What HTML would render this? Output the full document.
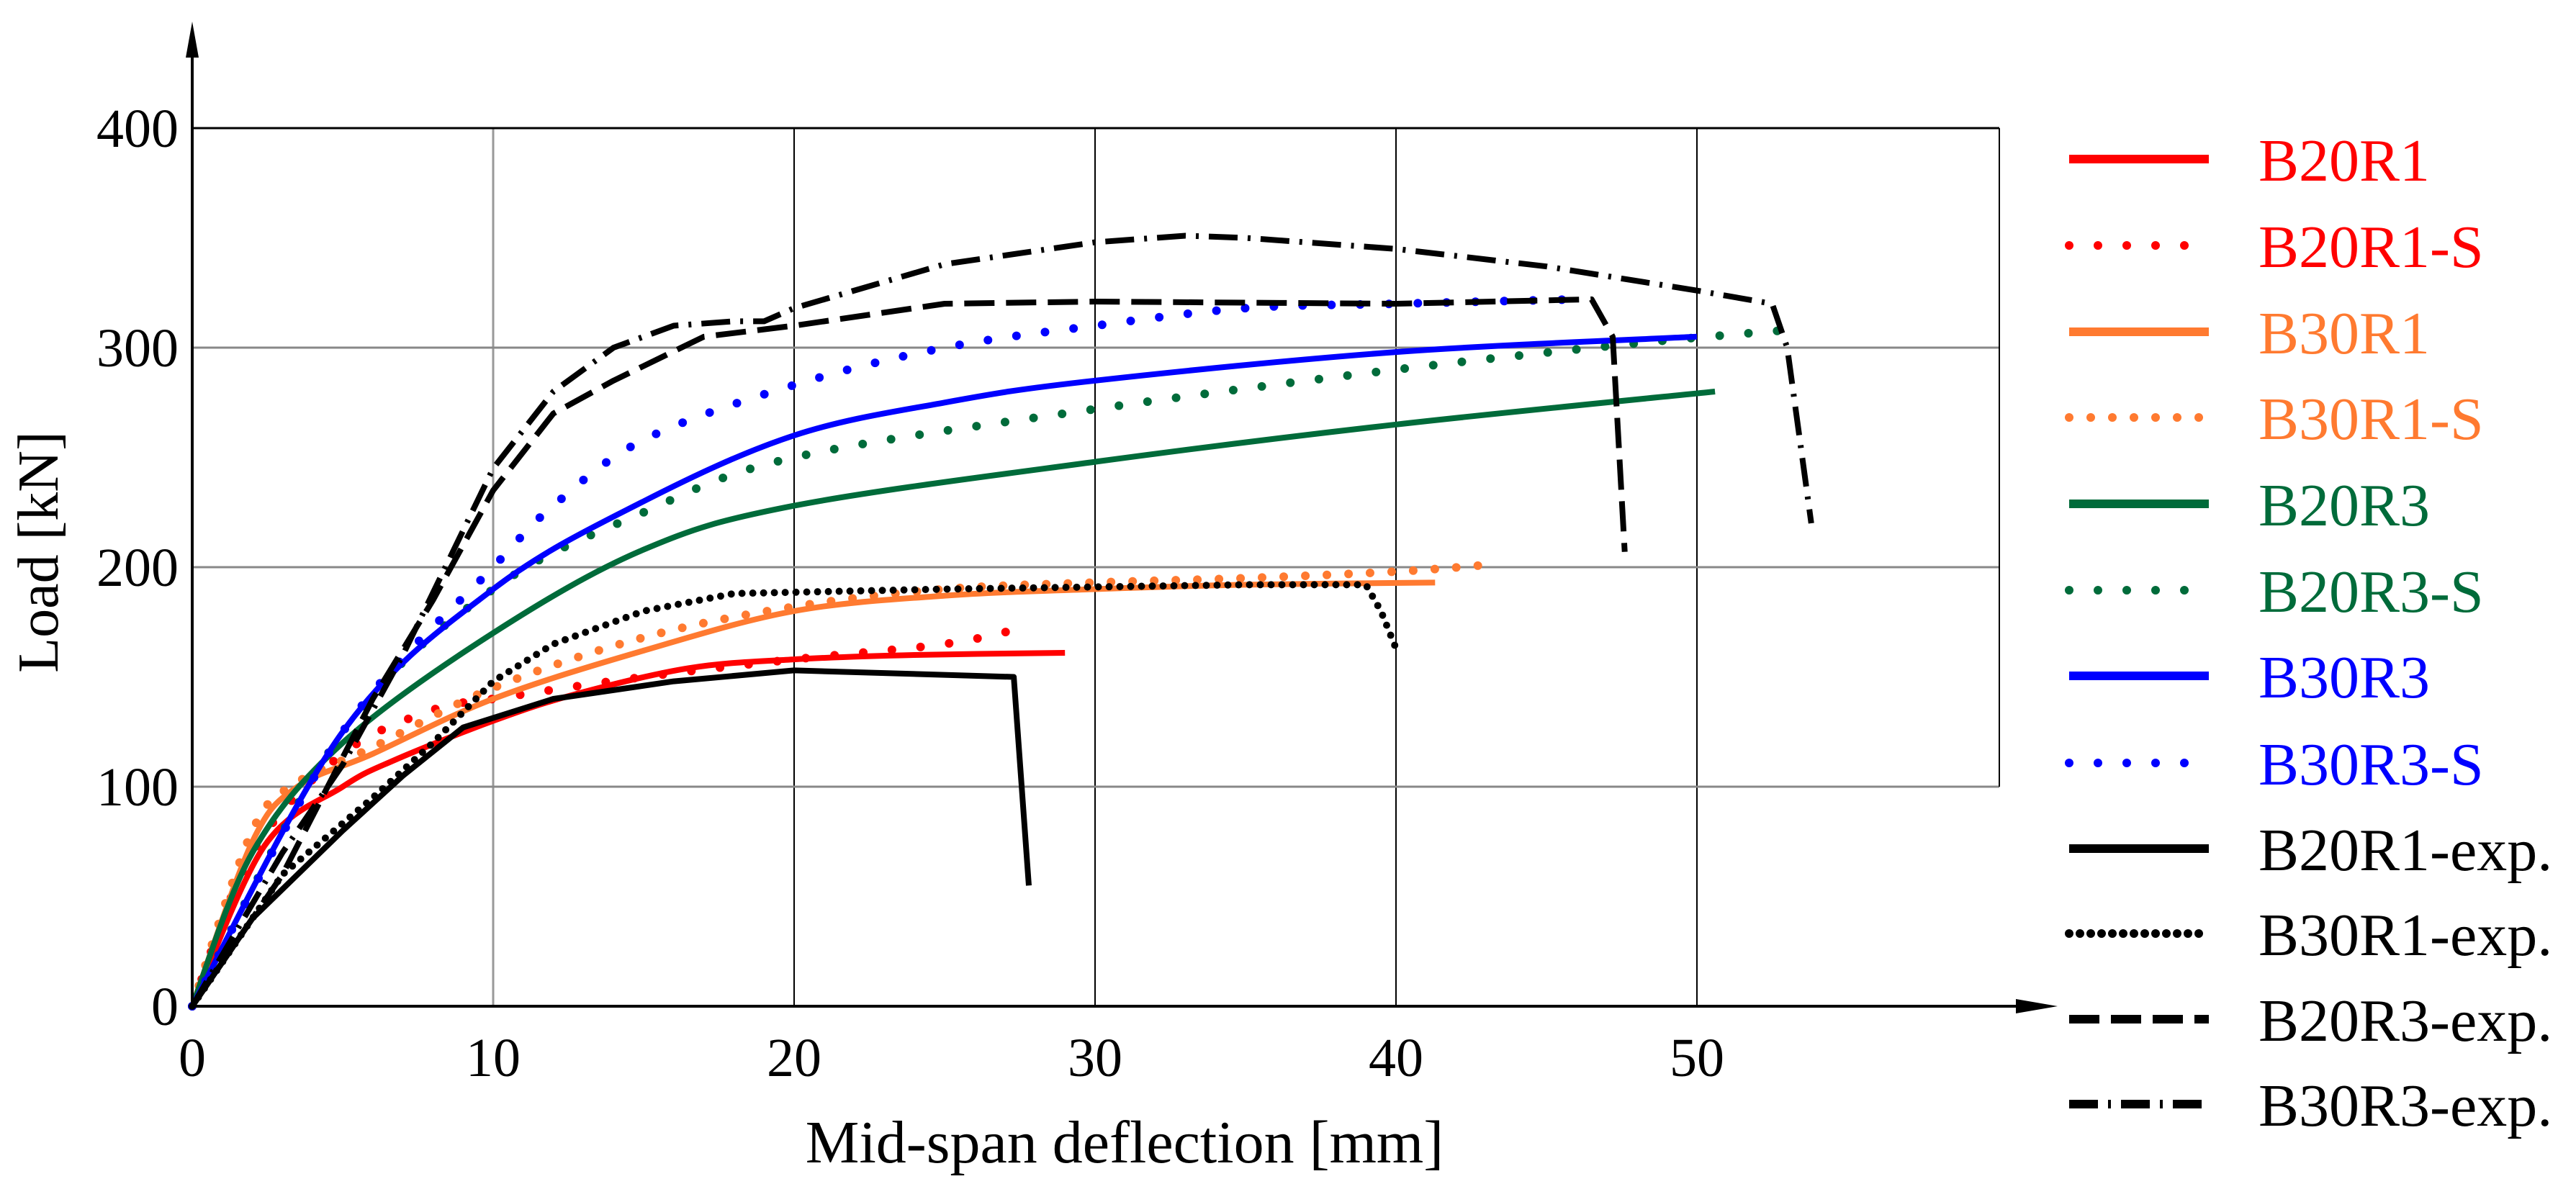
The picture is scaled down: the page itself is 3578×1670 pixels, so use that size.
<!DOCTYPE html>
<html><head><meta charset="utf-8">
<style>
html,body{margin:0;padding:0;background:#fff;}
svg{display:block;}
text{font-family:"Liberation Serif",serif;}
</style></head>
<body>
<svg id="chart" width="3578" height="1670" viewBox="0 0 3578 1670" xmlns="http://www.w3.org/2000/svg">
<g id="grid"></g>
<g id="series"></g>
<g id="axes"></g>
<g id="legend"></g>
<text x="0" y="0" font-size="80" text-anchor="middle" transform="translate(80,767) rotate(-90)">Load [kN]</text>
<text x="1562" y="1615" font-size="84" text-anchor="middle">Mid-span deflection  [mm]</text>
</svg>
<script>
const xTicks=[0,10,20,30,40,50];
const yTicks=[0,100,200,300,400];
const seriesNames=["B20R1","B20R1-S","B30R1","B30R1-S","B20R3","B20R3-S","B30R3","B30R3-S","B20R1-exp.","B30R1-exp.","B20R3-exp.","B30R3-exp."];
const B20R1_x=[0,2.4,5,6.7,10,12.7,16.5,20,24,29];
const B20R1_y=[0,73,100,112,130,142,154,158,160,161];
const B20R1S_x=[0,2,5,8,10,15,20,25,27.5];
const B20R1S_y=[0,70,115,135,140,150,158,165,172];
const B30R1_x=[0,2,3.5,6,10,15,20,25,30,35,41.3];
const B30R1_y=[0,75,100,115,140,162,180,187,190,192,193];
const B30R1S_x=[0,2,3.5,6,10,15,20,25,30,35,40,43];
const B30R1S_y=[0,80,102,118,145,168,182,190,193,195,198,201];
const B20R3_x=[0,2,5,10,15,20,30,40,50.6];
const B20R3_y=[0,70,120,170,208,228,248,265,280];
const B20R3S_x=[0,5,10,15,20,30,40,48,53];
const B20R3S_y=[0,125,190,225,250,272,290,302,308];
const B30R3_x=[0,5,10,15,20,25,30,40,50];
const B30R3_y=[0,125,190,230,260,275,285,298,305];
const B30R3S_x=[0,5,10,12,15,20,25,30,35,40,46];
const B30R3S_y=[0,125,200,228,258,283,300,310,318,320,322];
const B20R1E_x=[0,2,5,7,9,12,16,20,27.3,27.8];
const B20R1E_y=[0,40,80,105,127,140,148,153,150,55];
const B30R1E_x=[0,3,6,8,10,12,15,18,25,35,39,39.5,40];
const B30R1E_y=[0,60,95,120,148,165,180,188,190,192,192,180,163];
const B20R3E_x=[0,3,6,8,10,12,14,17,20,25,30,40,46.5,47.2,47.6];
const B20R3E_y=[0,60,140,185,235,270,285,305,310,320,321,320,322,305,207];
const B30R3E_x=[0,3,5,7,10,12,14,16,18,19,20,25,30,33,35,40,45,50,52.5,53,53.8];
const B30R3E_y=[0,70,110,160,245,280,300,310,312,312,318,338,348,351,350,345,337,326,320,300,220];

const X0=267,PXMM=41.8,Y0=1398,PXKN=3.05;
const sx=v=>X0+v*PXMM, sy=v=>Y0-v*PXKN;
const NS="http://www.w3.org/2000/svg";
function mk(tag,attrs,parent){const e=document.createElementNS(NS,tag);for(const k in attrs)e.setAttribute(k,attrs[k]);parent.appendChild(e);return e;}
function smoothPath(P){let d='M'+P[0][0].toFixed(1)+','+P[0][1].toFixed(1);
 for(let i=0;i<P.length-1;i++){const p0=P[i-1]||P[i],p1=P[i],p2=P[i+1],p3=P[i+2]||p2;
  const c1=[p1[0]+(p2[0]-p0[0])/6,p1[1]+(p2[1]-p0[1])/6],c2=[p2[0]-(p3[0]-p1[0])/6,p2[1]-(p3[1]-p1[1])/6];
  d+=` C${c1[0].toFixed(1)},${c1[1].toFixed(1)} ${c2[0].toFixed(1)},${c2[1].toFixed(1)} ${p2[0].toFixed(1)},${p2[1].toFixed(1)}`;}
 return d;}
const grid=document.getElementById('grid'),axes=document.getElementById('axes'),ser=document.getElementById('series'),leg=document.getElementById('legend');
const XR=2777;
xTicks.forEach(t=>{if(t===0)return;
 const l=mk('line',{x1:sx(t),x2:sx(t),y1:sy(400),y2:Y0,stroke:t===10?'#999':'#000','stroke-width':t===10?3:2},grid);
 
 
});
yTicks.forEach(t=>{if(t===0)return;
 const l=mk('line',{x1:X0,x2:XR,y1:sy(t),y2:sy(t),stroke:t===400?'#000':'#888','stroke-width':3},grid);
 
 
});
const rb=mk('line',{x1:XR,x2:XR,y1:sy(400),y2:sy(100),stroke:'#000','stroke-width':2},grid);


const ya=mk('line',{x1:X0,x2:X0,y1:Y0,y2:60,stroke:'#000','stroke-width':4},axes);


const yar=mk('polygon',{points:`${X0-9},80 ${X0+9},80 ${X0},30`,fill:'#000'},axes);


const xa=mk('line',{x1:X0,x2:2830,y1:Y0,y2:Y0,stroke:'#000','stroke-width':4},axes);


const xar=mk('polygon',{points:`2800,${Y0-10} 2800,${Y0+10} 2858,${Y0}`,fill:'#000'},axes);


xTicks.forEach(t=>{const e=mk('text',{x:sx(t),y:1495,'font-size':76,'text-anchor':'middle'},axes);e.textContent=t;
 
 
});
yTicks.forEach(t=>{const e=mk('text',{x:248,y:sy(t)+26,'font-size':76,'text-anchor':'end'},axes);e.textContent=t;
 
 
});
const styles=[
 {c:'#ff0000',w:8,d:null},{c:'#ff0000',w:12,d:'0 40'},
 {c:'#ff7a30',w:8,d:null},{c:'#ff7a30',w:12,d:'0 30'},
 {c:'#006b3a',w:8,d:null},{c:'#006b3a',w:12,d:'0 40'},
 {c:'#0000ff',w:8,d:null},{c:'#0000ff',w:12,d:'0 40'},
 {c:'#000',w:8,d:null},{c:'#000',w:10,d:'0 15'},
 {c:'#000',w:8,d:'42 16'},{c:'#000',w:8,d:'40 14 4 14'}];
const data=[[B20R1_x,B20R1_y],[B20R1S_x,B20R1S_y],[B30R1_x,B30R1_y],[B30R1S_x,B30R1S_y],[B20R3_x,B20R3_y],[B20R3S_x,B20R3S_y],[B30R3_x,B30R3_y],[B30R3S_x,B30R3S_y],[B20R1E_x,B20R1E_y],[B30R1E_x,B30R1E_y],[B20R3E_x,B20R3E_y],[B30R3E_x,B30R3E_y]];
const legendYs=[221,341,461,580,700,820,939,1060,1179,1297,1416,1534];
data.forEach((d,i)=>{const s=styles[i];
 const P=d[0].map((x,j)=>[sx(x),sy(d[1][j])]);
 const a={fill:'none',stroke:s.c,'stroke-width':s.w,'stroke-linejoin':'round','stroke-linecap':s.d&&s.d.startsWith('0')?'round':'butt'};
 if(s.d)a['stroke-dasharray']=s.d;
 let p;
 if(i<8){a.d=smoothPath(P);p=mk('path',a,ser);}
 else{a.points=P.map(q=>q[0].toFixed(1)+','+q[1].toFixed(1)).join(' ');p=mk('polyline',a,ser);}
 
 
 const ly=legendYs[i];
 const la={x1:2874,x2:3068,y1:ly,y2:ly,stroke:s.c,'stroke-width':12,'stroke-linecap':s.d&&s.d.startsWith('0')?'round':'butt'};
 if(s.d)la['stroke-dasharray']=s.d;
 const ll=mk('line',la,leg);
 
 
 const lt=mk('text',{x:3137,y:ly+30,'font-size':84,fill:s.c},leg);
 lt.textContent=seriesNames[i];
 
 
});
</script>
</body></html>
